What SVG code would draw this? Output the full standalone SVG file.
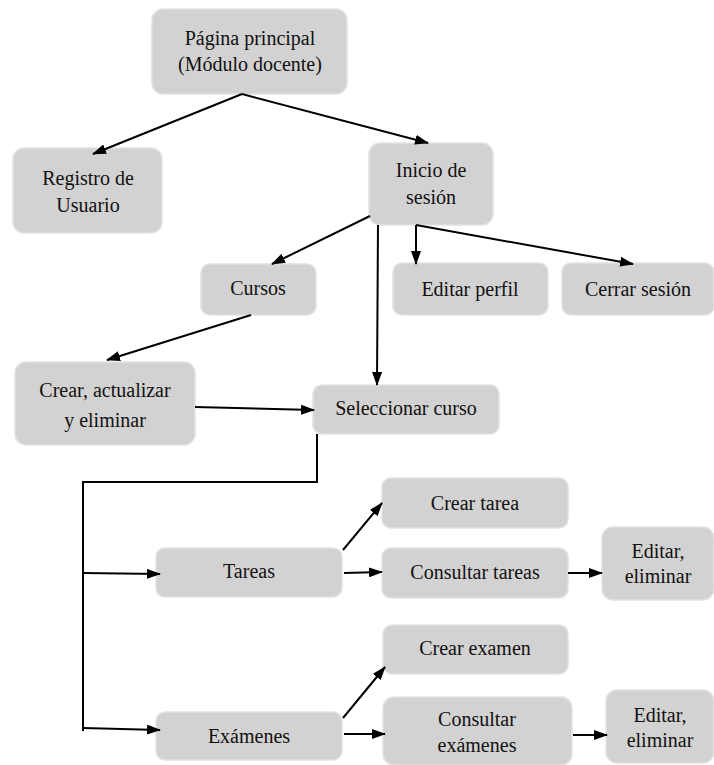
<svg xmlns="http://www.w3.org/2000/svg" width="714" height="765" viewBox="0 0 714 765">
<style>
.n rect{fill:#d3d2d2;stroke:#e2e2e2;stroke-width:1.5}
.n text{font-family:'Liberation Serif','Times New Roman','DejaVu Serif',serif;font-size:20px;fill:#111;text-anchor:middle}
.c line,.c polyline{stroke:#000;stroke-width:2;fill:none}
.c .a{marker-end:url(#ah)}
</style>
<defs>
<marker id="ah" viewBox="0 0 14 10" refX="13" refY="5" markerWidth="14" markerHeight="10" markerUnits="userSpaceOnUse" orient="auto">
<path d="M0,0 L14,5 L0,10 z" fill="#000"/>
</marker>
</defs>
<rect width="714" height="765" fill="#fff"/>
<g font-family="Liberation Serif, Times New Roman, DejaVu Serif, serif">
<g class="n" id="pagina"><rect x="152" y="9" width="195" height="85" rx="11"/><text x="250" y="45">Página principal</text><text x="250" y="71">(Módulo docente)</text></g>
<g class="n" id="registro"><rect x="13" y="148" width="149" height="85" rx="11"/><text x="88" y="185">Registro de</text><text x="88" y="212">Usuario</text></g>
<g class="n" id="inicio"><rect x="369" y="143" width="124" height="82" rx="11"/><text x="431" y="177">Inicio de</text><text x="431" y="204">sesión</text></g>
<g class="n" id="editarperfil"><rect x="393" y="263" width="155" height="52" rx="9"/><text x="470" y="296">Editar perfil</text></g>
<g class="n" id="cerrar"><rect x="562" y="263" width="152" height="52" rx="9"/><text x="638" y="296">Cerrar sesión</text></g>
<g class="n" id="cursos"><rect x="201" y="264" width="115" height="51" rx="9"/><text x="258" y="295">Cursos</text></g>
<g class="n" id="crear"><rect x="15" y="362" width="180" height="83" rx="11"/><text x="105" y="397">Crear, actualizar</text><text x="105" y="427">y eliminar</text></g>
<g class="n" id="seleccionar"><rect x="313" y="385" width="186" height="49" rx="9"/><text x="406" y="415">Seleccionar curso</text></g>
<g class="n" id="tareas"><rect x="156" y="548" width="186" height="49" rx="9"/><text x="249" y="578">Tareas</text></g>
<g class="n" id="examenes"><rect x="156" y="712" width="186" height="48" rx="9"/><text x="249" y="743">Exámenes</text></g>
<g class="n" id="creartarea"><rect x="382" y="478" width="186" height="50" rx="9"/><text x="475" y="510">Crear tarea</text></g>
<g class="n" id="consultartareas"><rect x="382" y="548" width="186" height="50" rx="9"/><text x="475" y="579">Consultar tareas</text></g>
<g class="n" id="editartareas"><rect x="602" y="527" width="112" height="73" rx="11"/><text x="658" y="558">Editar,</text><text x="658" y="583">eliminar</text></g>
<g class="n" id="crearexamen"><rect x="383" y="625" width="185" height="49" rx="9"/><text x="475" y="655">Crear examen</text></g>
<g class="n" id="consultarexamenes"><rect x="383" y="697" width="189" height="68" rx="11"/><text x="477" y="726">Consultar</text><text x="477" y="752">exámenes</text></g>
<g class="n" id="editarexamenes"><rect x="606" y="690" width="108" height="73" rx="11"/><text x="660" y="722">Editar,</text><text x="660" y="747">eliminar</text></g>
</g>
<g class="c" id="connectors">
<line class="a" x1="242" y1="94" x2="93" y2="154"/>
<line class="a" x1="242" y1="94" x2="428" y2="143"/>
<line class="a" x1="370" y1="216" x2="272" y2="264"/>
<line class="a" x1="378" y1="225" x2="377" y2="385"/>
<line class="a" x1="416" y1="225" x2="416" y2="264"/>
<line class="a" x1="416" y1="225" x2="633" y2="264"/>
<line class="a" x1="251" y1="315" x2="107" y2="360"/>
<line class="a" x1="195" y1="407" x2="314" y2="410"/>
<polyline points="317,434 317,482 83,482 83,731"/>
<line class="a" x1="83" y1="573" x2="160" y2="574"/>
<line class="a" x1="83" y1="728" x2="160" y2="730"/>
<line class="a" x1="343" y1="550" x2="382" y2="503"/>
<line class="a" x1="344" y1="573" x2="382" y2="572"/>
<line class="a" x1="568" y1="573" x2="602" y2="573"/>
<line class="a" x1="343" y1="718" x2="385" y2="667"/>
<line class="a" x1="344" y1="734" x2="385" y2="734"/>
<line class="a" x1="573" y1="735" x2="607" y2="735"/>
</g>
</svg>
